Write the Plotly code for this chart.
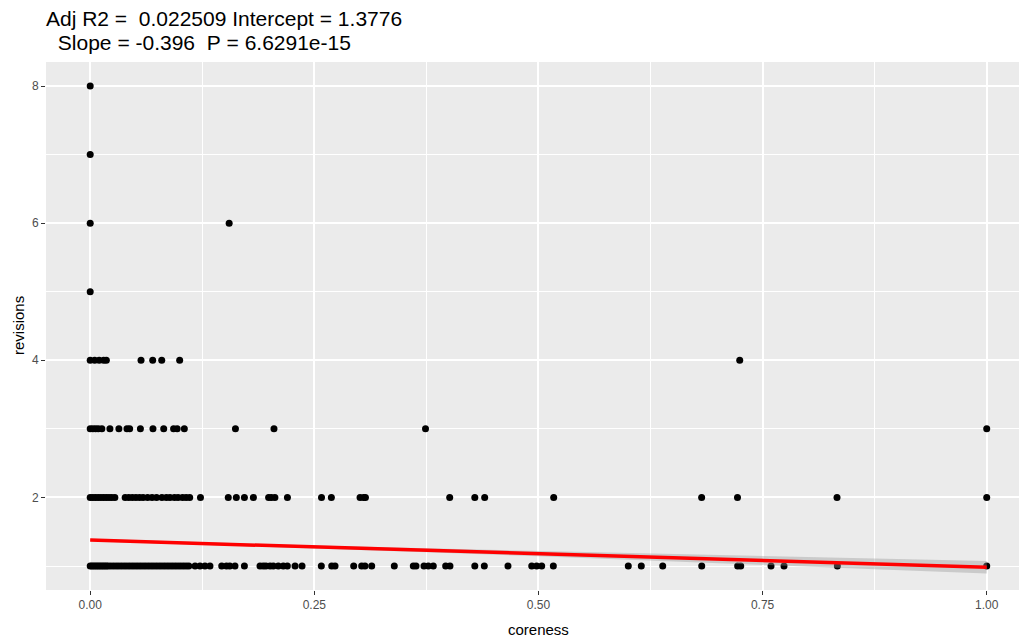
import plotly.graph_objects as go

# ---- data ----
coreness_rev1 = [0, 0.002, 0.004, 0.006, 0.008, 0.010, 0.012, 0.014, 0.016, 0.018, 0.020, 0.023,
                 0.026, 0.029, 0.032, 0.035, 0.038, 0.041, 0.044, 0.047, 0.050, 0.053, 0.056, 0.059,
                 0.062, 0.065, 0.068, 0.071, 0.074, 0.077, 0.080, 0.083, 0.086, 0.089, 0.092, 0.095,
                 0.098, 0.101, 0.104, 0.107, 0.110, 0.117, 0.1225, 0.128, 0.1336, 0.1467, 0.152,
                 0.1557, 0.1615, 0.172, 0.1894, 0.193, 0.196, 0.2006, 0.2042, 0.2098, 0.2154, 0.2199,
                 0.2285, 0.2363, 0.2578, 0.2694, 0.2731, 0.2939, 0.3028, 0.3065, 0.314, 0.3392,
                 0.3604, 0.3634, 0.3723, 0.3771, 0.3827, 0.3965, 0.4013, 0.429, 0.4396, 0.466,
                 0.4925, 0.498, 0.5036, 0.5166, 0.6002, 0.6147, 0.6386, 0.6821, 0.7222, 0.7256,
                 0.7594, 0.7739, 0.8334, 1.0]
coreness_rev2 = [0, 0.003, 0.006, 0.009, 0.012, 0.015, 0.018, 0.021, 0.024, 0.0275,
                 0.039, 0.043, 0.047, 0.051, 0.055, 0.059, 0.064, 0.069, 0.074, 0.080, 0.085,
                 0.089, 0.094, 0.098, 0.103, 0.107, 0.111, 0.123, 0.154, 0.163, 0.172, 0.182,
                 0.199, 0.202, 0.206, 0.220, 0.258, 0.269, 0.301, 0.305, 0.307, 0.401, 0.429,
                 0.440, 0.517, 0.682, 0.722, 0.833, 1.0]
coreness_rev3 = [0, 0.003, 0.006, 0.009, 0.013, 0.022, 0.032, 0.041, 0.044, 0.056, 0.070,
                 0.082, 0.093, 0.097, 0.105, 0.162, 0.205, 0.374, 1.0]
coreness_rev4 = [0, 0.005, 0.010, 0.015, 0.018, 0.0567, 0.0697, 0.0798, 0.0998, 0.7245]
coreness_rev5 = [0]
coreness_rev6 = [0, 0.155]
coreness_rev7 = [0]
coreness_rev8 = [0]

intercept = 1.3776
slope = -0.396
ci_x = [0, 0.125, 0.25, 0.375, 0.5, 0.625, 0.75, 0.875, 1.0]
ci_half = [0.018, 0.017, 0.02, 0.028, 0.038, 0.05, 0.062, 0.077, 0.092]

title_line1 = "Adj R2 =  0.022509 Intercept = 1.3776"
title_line2 = " Slope = -0.396  P = 6.6291e-15"
x_label = "coreness"
y_label = "revisions"
x_ticks = [0, 0.25, 0.5, 0.75, 1.0]
x_ticktext = ["0.00", "0.25", "0.50", "0.75", "1.00"]
y_ticks = [2, 4, 6, 8]

# ---- build ----
groups = [(1, coreness_rev1), (2, coreness_rev2), (3, coreness_rev3), (4, coreness_rev4),
          (5, coreness_rev5), (6, coreness_rev6), (7, coreness_rev7), (8, coreness_rev8)]
xs, ys = [], []
for rv, cs in groups:
    xs += cs
    ys += [rv] * len(cs)

fig = go.Figure()
fig.add_trace(go.Scatter(x=xs, y=ys, mode="markers",
                         marker=dict(size=7, color="black", line=dict(width=0)),
                         showlegend=False, hoverinfo="x+y"))

fit = [intercept + slope * x for x in ci_x]
upper = [f + h for f, h in zip(fit, ci_half)]
lower = [f - h for f, h in zip(fit, ci_half)]
fig.add_trace(go.Scatter(x=ci_x + ci_x[::-1], y=upper + lower[::-1], fill="toself",
                         fillcolor="rgba(153,153,153,0.4)", line=dict(width=0),
                         mode="lines", showlegend=False, hoverinfo="skip"))
fig.add_trace(go.Scatter(x=[ci_x[0], ci_x[-1]], y=[fit[0], fit[-1]], mode="lines",
                         line=dict(color="#FF0000", width=3.5), showlegend=False))

def esc(s):
    return s.replace(" ", "&nbsp;")

H = 639
top, bottom = 62, 590
ph = bottom - top

def py(p):
    return (bottom - p) / ph

FONT = "Liberation Sans, Arial"
fig.add_annotation(text=esc(title_line1), xref="paper", yref="paper", x=0, y=py(18.5),
                   xanchor="left", yanchor="middle", showarrow=False, xshift=-2,
                   font=dict(size=21, color="black", family=FONT))
fig.add_annotation(text=esc(title_line2), xref="paper", yref="paper", x=0, y=py(42.5),
                   xanchor="left", yanchor="middle", showarrow=False, xshift=4,
                   font=dict(size=21, color="black", family=FONT))
fig.add_annotation(text=x_label, xref="paper", yref="paper",
                   x=(538 - 46) / (1019 - 46), y=py(629), xanchor="center", yanchor="middle",
                   showarrow=False, font=dict(size=15, color="black", family=FONT))
fig.add_annotation(text=y_label, xref="paper", yref="paper", x=(18 - 46) / (1019 - 46),
                   y=py(326), xanchor="center", yanchor="middle", textangle=-90,
                   showarrow=False, font=dict(size=15, color="black", family=FONT))

fig.update_layout(
    width=1019, height=639,
    margin=dict(l=46, r=0, t=top, b=H - bottom),
    paper_bgcolor="white", plot_bgcolor="#EBEBEB",
    font=dict(family=FONT, color="#4D4D4D"),
    xaxis=dict(range=[-0.0493, 1.036], tickvals=x_ticks, ticktext=x_ticktext,
               showgrid=True, gridcolor="white", gridwidth=1.8, zeroline=False,
               ticks="outside", ticklen=4, tickcolor="#333333", tickwidth=1,
               tickfont=dict(size=12, color="#4D4D4D"),
               minor=dict(dtick=0.125, tick0=0, showgrid=True, gridcolor="white", gridwidth=0.9, ticks=""),
               showline=False, fixedrange=True),
    yaxis=dict(range=[0.65, 8.35], tickvals=y_ticks,
               showgrid=True, gridcolor="white", gridwidth=1.8, zeroline=False,
               ticks="outside", ticklen=4, tickcolor="#333333", tickwidth=1,
               tickfont=dict(size=12, color="#4D4D4D"),
               minor=dict(dtick=1, tick0=0, showgrid=True, gridcolor="white", gridwidth=0.9, ticks=""),
               showline=False, fixedrange=True),
)

fig.write_html("out.html")
